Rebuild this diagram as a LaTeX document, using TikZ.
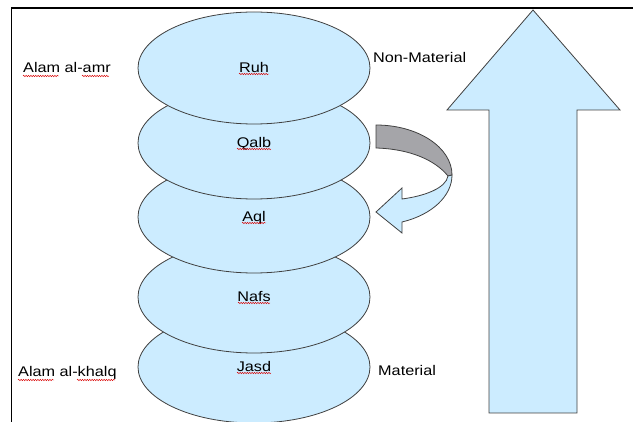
\documentclass[tikz,border=0pt]{standalone}
\usepackage{fontspec}
\usepackage{graphicx}
\setmainfont{Liberation Sans}
\usetikzlibrary{shapes.geometric,decorations.pathmorphing}
\definecolor{lb}{HTML}{CCECFF}
\definecolor{bk}{HTML}{A5A5A9}
\definecolor{edgec}{HTML}{404040}
\newcommand{\wide}[1]{\scalebox{1.16}[1]{#1}}
\begin{document}
\begin{tikzpicture}[x=1pt,y=-1pt,
  layer/.style={ellipse, draw=edgec, fill=lb, line width=0.8pt,
    minimum width=232pt, minimum height=112pt, inner sep=0pt,
    font=\fontsize{14}{16}\selectfont, text height=10pt, text depth=0pt},
  lbl/.style={font=\fontsize{14}{16}\selectfont, inner sep=0pt, anchor=base west},
  squig/.style={draw=red!85!black, line width=0.45pt, decorate,
    decoration={snake, amplitude=0.7pt, segment length=2.4pt}},
  shp/.style={draw=edgec, line width=0.8pt}]
\useasboundingbox (0,0) rectangle (633,422);
% frame
\draw[line width=1.5pt] (633,8) -- (11,8);
\draw[line width=1pt] (11,8) -- (11,422);
% stacked ellipses
\node[layer] (jasd) at (254,367) {\wide{Jasd}};
\node[layer] (nafs) at (254,297) {\wide{Nafs}};
\node[layer] (aql)  at (254,217) {\wide{Aql}};
\node[layer] (qalb) at (254,143) {\wide{Qalb}};
\node[layer] (ruh)  at (254,68)  {\wide{Ruh}};
% spelling squiggles
\draw[squig] ([shift={(-15,6)}]ruh.center) -- ([shift={(15,6)}]ruh.center);
\draw[squig] ([shift={(-17,6)}]qalb.center) -- ([shift={(17,6)}]qalb.center);
\draw[squig] ([shift={(-12,6)}]aql.center) -- ([shift={(12,6)}]aql.center);
\draw[squig] ([shift={(-16,6)}]nafs.center) -- ([shift={(16,6)}]nafs.center);
\draw[squig] ([shift={(-17,6)}]jasd.center) -- ([shift={(17,6)}]jasd.center);
% side labels
\node[lbl] (amr) at (23,73) {\wide{Alam al-amr}};
\node[lbl] (khalq) at (18,377) {\wide{Alam al-khalq}};
\node[lbl] (nonmat) at (373,63) {\wide{Non-Material}};
\node[lbl] (mat) at (378,376) {\wide{Material}};
\draw[squig] ([shift={(0,3)}]amr.base west) -- ++(36,0);
\draw[squig] ([shift={(59,3)}]amr.base west) -- ++(27,0);
\draw[squig] ([shift={(0,3)}]khalq.base west) -- ++(36,0);
\draw[squig] ([shift={(59,3)}]khalq.base west) -- ++(38,0);
% big up arrow
\draw[shp, fill=lb] (533,10) -- (620,110) -- (577,110) -- (577,413)
  -- (489,413) -- (489,110) -- (447,110) -- cycle;
% curved arrow: back face
\draw[shp, fill=bk] (376,125) arc[start angle=-90, end angle=0, x radius=76, y radius=50]
  -- (448,176) .. controls (435,160) and (410,149) .. (376,148) -- cycle;
% curved arrow: front face with head
\draw[shp, fill=lb] (448,176) .. controls (446,188) and (425,196) .. (402,199)
  -- (402,188) -- (376,212) -- (402,233) -- (402,222)
  arc[start angle=70, end angle=0, x radius=76, y radius=50] -- cycle;
\end{tikzpicture}
\end{document}
